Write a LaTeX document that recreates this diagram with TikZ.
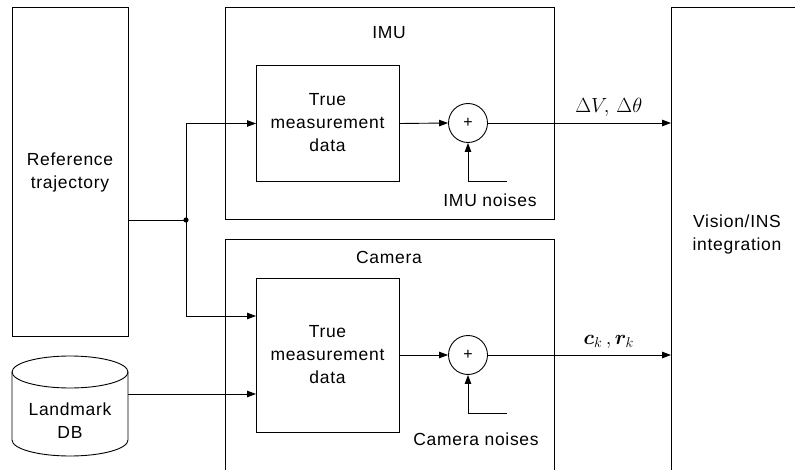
\RequirePackage{fix-cm}
\documentclass[tikz,border=0pt]{standalone}
\usepackage{fontspec}
\usepackage{bm}
\setmainfont{Liberation Sans}[LetterSpace=4]
\usetikzlibrary{arrows.meta,calc}
\begin{document}
\begin{tikzpicture}[x=1pt,y=-1pt,
  outer/.style={draw,line width=1.3pt,inner sep=0pt,anchor=north west},
  inner/.style={draw,line width=1pt,inner sep=0pt,anchor=north west},
  txt/.style={font=\fontsize{17.5}{23}\selectfont,align=center,inner sep=0pt},
  sumnode/.style={draw,circle,line width=0.9pt,minimum size=39pt,inner sep=0pt,font=\fontsize{16}{16}\selectfont},
  conn/.style={line width=0.9pt},
  arr/.style={line width=0.9pt,-{Triangle[length=9pt,width=6.5pt]}},
  mlab/.style={font=\fontsize{20.5}{20.5}\selectfont,inner sep=0pt}]
\clip (0,0) rectangle (795,470);
% reference trajectory
\node[outer,minimum width=116pt,minimum height=329pt] (ref) at (12,7) {};
\node[txt] at (70,172) {Reference\\trajectory};
% IMU
\node[outer,minimum width=329pt,minimum height=212pt] (imu) at (225,7) {};
\node[txt] at (389,33) {IMU};
\node[inner,minimum width=143pt,minimum height=116pt] (iin) at (256,65) {};
\node[txt] at (327.5,123) {True\\measurement\\data};
\node[sumnode] (s1) at (468,123) {+};
\coordinate (n1) at (507,181);
\node[txt] at (490,200) {IMU noises};
% Camera
\node[outer,minimum width=329pt,minimum height=280pt] (cam) at (225,239) {};
\node[txt] at (389,257) {Camera};
\node[inner,minimum width=143pt,minimum height=154pt] (cin) at (256,278) {};
\node[txt] at (327.5,355) {True\\measurement\\data};
\node[sumnode] (s2) at (468,355) {+};
\coordinate (n2) at (507,413);
\node[txt] at (476,439) {Camera noises};
% Vision
\node[outer,minimum width=140pt,minimum height=500pt] (vis) at (671,7) {};
\node[txt] at (737,234) {Vision/INS\\integration};
% Landmark DB cylinder
\draw[line width=0.9pt] (12,372) -- (12,440) arc[start angle=180,end angle=360,x radius=58pt,y radius=16pt] -- (128,372);
\draw[line width=0.9pt] (70,372) ellipse[x radius=58pt,y radius=16pt];
\node[minimum width=116pt,minimum height=100pt,inner sep=0pt] (ldb) at (70,406) {};
\node[txt] at (70,421) {Landmark\\DB};
\coordinate (ldbo) at (128,394);
% connectors
\coordinate (j) at (186,220);
\coordinate (c1) at (256,316);
\draw[conn] (ref.east |- j) -- (j);
\fill (j) circle[radius=2.6pt];
\draw[arr] (j) |- (iin.west);
\draw[arr] (j) |- (c1);
\draw[arr] (ldbo) -- (ldbo -| cin.west);
\draw[arr] (iin.east) -- (s1.west);
\draw[arr] (cin.east |- s2) -- (s2.west);
\draw[arr] (n1) -| (s1.south);
\draw[arr] (n2) -| (s2.south);
\draw[arr] (s1.east) -- (s1.east -| vis.west) node[mlab,pos=0.66,above=6pt] {$\Delta V,\,\Delta\theta$};
\draw[arr] (s2.east) -- (s2.east -| vis.west) node[mlab,pos=0.66,above=6pt] {$\bm{c}_k\,,\bm{r}_k$};
\end{tikzpicture}
\end{document}
